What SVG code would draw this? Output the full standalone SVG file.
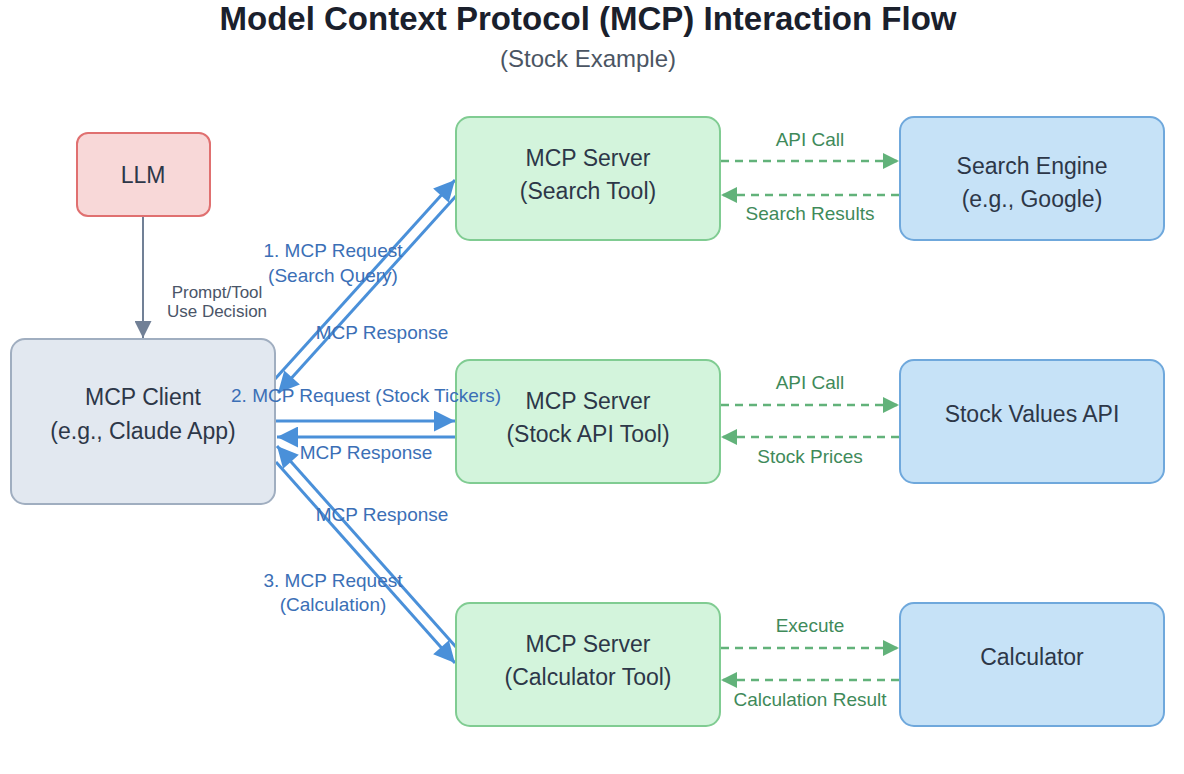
<svg xmlns="http://www.w3.org/2000/svg" width="1184" height="774" viewBox="0 0 1184 774">
<style>
text{font-family:"Liberation Sans",Arial,sans-serif;text-anchor:middle}
.title{font-size:33px;font-weight:bold;fill:#1a202c}
.sub{font-size:24px;fill:#4b5563}
.nt{font-size:23px;fill:#2d3748}
.bl{font-size:19px;fill:#3b6fb6}
.gl{font-size:19px;fill:#3f8a5a}
.pl{font-size:17px;fill:#4a5568}
.blue{stroke:#4a90d9;stroke-width:3;fill:none}
.green{stroke:#62b27a;stroke-width:2.5;fill:none;stroke-dasharray:8 6}
.grey{stroke:#718096;stroke-width:2;fill:none}
</style>
<defs>
<marker id="ab" viewBox="0 0 10 10" refX="10" refY="5" markerWidth="30" markerHeight="21" markerUnits="userSpaceOnUse" orient="auto"><path d="M0,0 L10,5 L0,10 z" fill="#4a90d9"/></marker>
<marker id="ag" viewBox="0 0 10 10" refX="10" refY="5" markerWidth="22" markerHeight="16" markerUnits="userSpaceOnUse" orient="auto"><path d="M0,0 L10,5 L0,10 z" fill="#62b27a"/></marker>
<marker id="ay" viewBox="0 0 10 10" refX="10" refY="5" markerWidth="23" markerHeight="17" markerUnits="userSpaceOnUse" orient="auto"><path d="M0,0 L10,5 L0,10 z" fill="#718096"/></marker>
</defs>
<rect width="1184" height="774" fill="#ffffff"/>
<text class="title" x="588" y="30">Model Context Protocol (MCP) Interaction Flow</text>
<text class="sub" x="588" y="67">(Stock Example)</text>

<g id="connectors">
<line class="grey" x1="143" y1="217" x2="143" y2="338" marker-end="url(#ay)"/>
<line class="blue" x1="275" y1="379" x2="455" y2="180" marker-end="url(#ab)"/>
<line class="blue" x1="456" y1="196" x2="278" y2="393" marker-end="url(#ab)"/>
<line class="blue" x1="276" y1="421" x2="455" y2="421" marker-end="url(#ab)"/>
<line class="blue" x1="456" y1="437" x2="277" y2="437" marker-end="url(#ab)"/>
<line class="blue" x1="276" y1="462" x2="455" y2="663" marker-end="url(#ab)"/>
<line class="blue" x1="456" y1="647" x2="277" y2="446" marker-end="url(#ab)"/>
<line class="green" x1="721" y1="161" x2="899" y2="161" marker-end="url(#ag)"/>
<line class="green" x1="899" y1="195" x2="721" y2="195" marker-end="url(#ag)"/>
<line class="green" x1="721" y1="405" x2="899" y2="405" marker-end="url(#ag)"/>
<line class="green" x1="899" y1="437" x2="721" y2="437" marker-end="url(#ag)"/>
<line class="green" x1="721" y1="648" x2="899" y2="648" marker-end="url(#ag)"/>
<line class="green" x1="899" y1="680" x2="721" y2="680" marker-end="url(#ag)"/>
</g>

<g id="llm">
<rect x="77" y="133" width="133" height="83" rx="11" fill="#f8d8d8" stroke="#e07070" stroke-width="2"/>
<text class="nt" x="143" y="183">LLM</text>
</g>
<g id="client">
<rect x="11" y="339" width="264" height="165" rx="14" fill="#e2e8f0" stroke="#a0aec0" stroke-width="2"/>
<text class="nt" x="143" y="405">MCP Client</text>
<text class="nt" x="143" y="439">(e.g., Claude App)</text>
</g>
<g id="server-search">
<rect x="456" y="117" width="264" height="123" rx="14" fill="#d3f4dc" stroke="#80cc92" stroke-width="2"/>
<text class="nt" x="588" y="166">MCP Server</text>
<text class="nt" x="588" y="199">(Search Tool)</text>
</g>
<g id="server-stock">
<rect x="456" y="360" width="264" height="123" rx="14" fill="#d3f4dc" stroke="#80cc92" stroke-width="2"/>
<text class="nt" x="588" y="409">MCP Server</text>
<text class="nt" x="588" y="442">(Stock API Tool)</text>
</g>
<g id="server-calc">
<rect x="456" y="603" width="264" height="123" rx="14" fill="#d3f4dc" stroke="#80cc92" stroke-width="2"/>
<text class="nt" x="588" y="652">MCP Server</text>
<text class="nt" x="588" y="685">(Calculator Tool)</text>
</g>
<g id="search-engine">
<rect x="900" y="117" width="264" height="123" rx="14" fill="#c6e2f7" stroke="#6fa8dc" stroke-width="2"/>
<text class="nt" x="1032" y="174">Search Engine</text>
<text class="nt" x="1032" y="207">(e.g., Google)</text>
</g>
<g id="stock-api">
<rect x="900" y="360" width="264" height="123" rx="14" fill="#c6e2f7" stroke="#6fa8dc" stroke-width="2"/>
<text class="nt" x="1032" y="422">Stock Values API</text>
</g>
<g id="calculator">
<rect x="900" y="603" width="264" height="123" rx="14" fill="#c6e2f7" stroke="#6fa8dc" stroke-width="2"/>
<text class="nt" x="1032" y="665">Calculator</text>
</g>

<g id="connector-labels">
<text class="pl" x="217" y="298">Prompt/Tool</text>
<text class="pl" x="217" y="317">Use Decision</text>
<text class="bl" x="333" y="257">1. MCP Request</text>
<text class="bl" x="333" y="282">(Search Query)</text>
<text class="bl" x="382" y="339">MCP Response</text>
<text class="bl" x="366" y="402">2. MCP Request (Stock Tickers)</text>
<text class="bl" x="366" y="459">MCP Response</text>
<text class="bl" x="382" y="521">MCP Response</text>
<text class="bl" x="333" y="587">3. MCP Request</text>
<text class="bl" x="333" y="611">(Calculation)</text>
<text class="gl" x="810" y="146">API Call</text>
<text class="gl" x="810" y="220">Search Results</text>
<text class="gl" x="810" y="389">API Call</text>
<text class="gl" x="810" y="463">Stock Prices</text>
<text class="gl" x="810" y="632">Execute</text>
<text class="gl" x="810" y="706">Calculation Result</text>
</g>
</svg>
